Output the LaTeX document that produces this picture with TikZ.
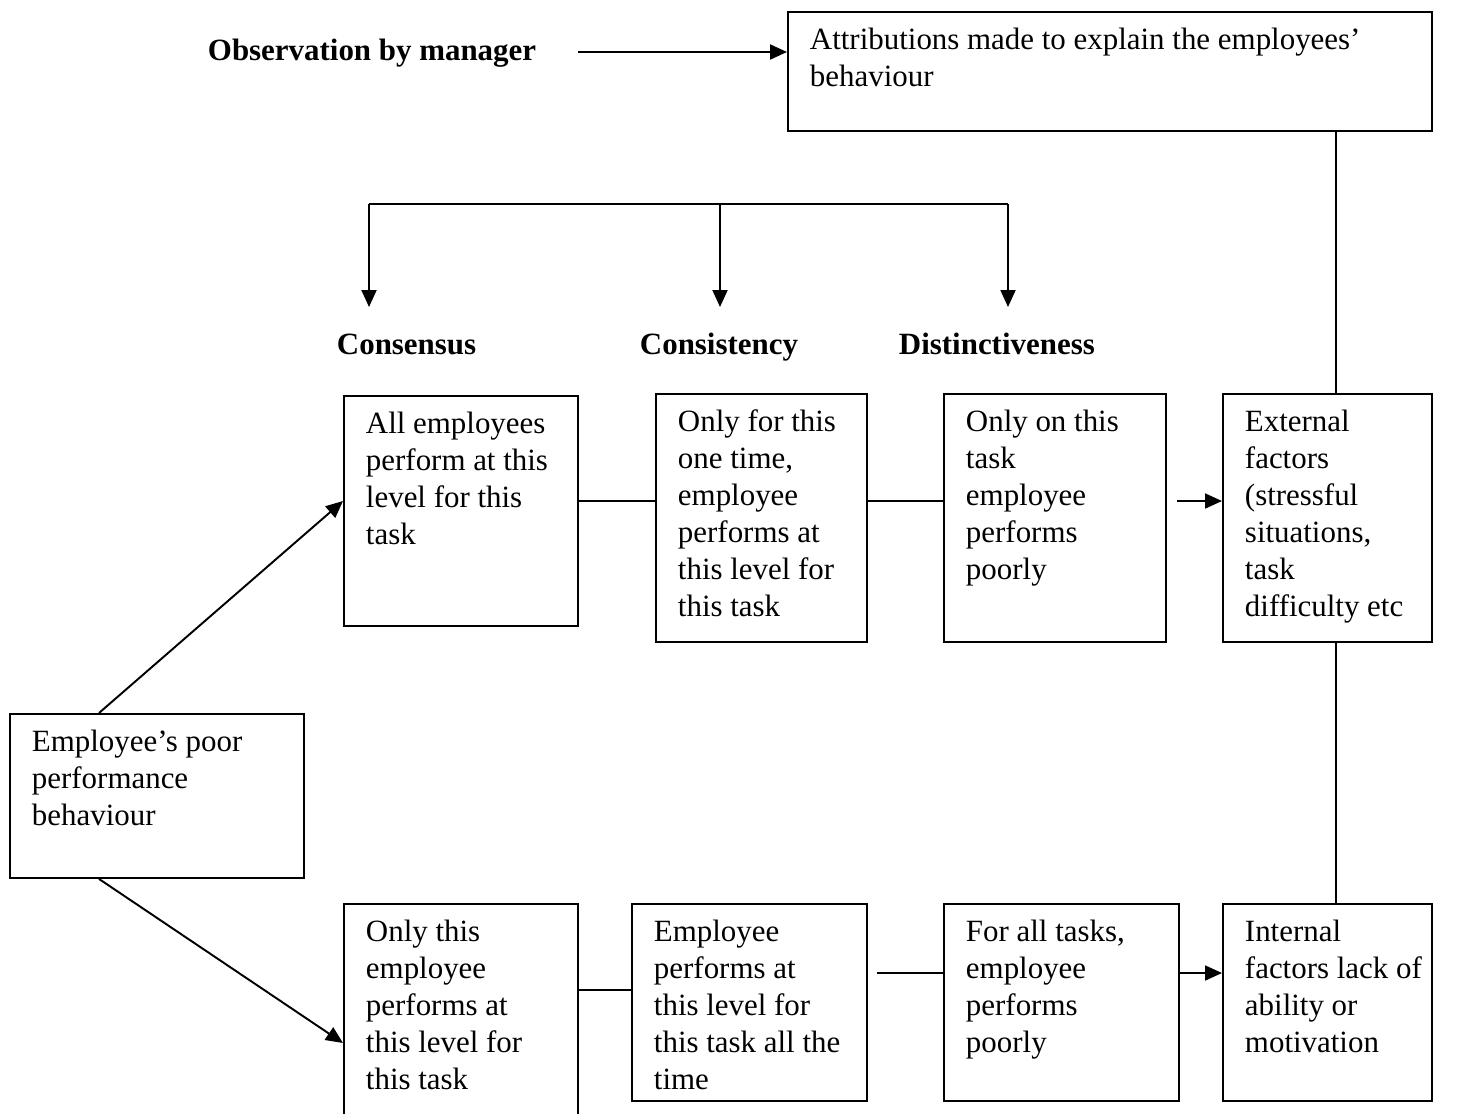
\documentclass[tikz,border=0pt]{standalone}
\usepackage{fontspec}
\setmainfont{Liberation Serif}
\usepackage{tikz}
\usetikzlibrary{arrows.meta}
\tikzset{cell/.style={draw,anchor=north west,align=left,inner xsep=0.1cm,inner ysep=0pt,text height=0.76cm,execute at begin node={\leftskip=0.34cm\spaceskip=\fontdimen2\font\relax}}}
\tikzset{head/.style={anchor=base west,inner sep=0pt,font=\fontsize{17.6}{21}\selectfont\bfseries}}

\begin{document}
\begin{tikzpicture}[x=0.02cm,y=-0.02cm,line width=1.1pt,>={Triangle[length=0.34cm,width=0.3cm]},font=\fontsize{17.6}{21}\selectfont]
    \useasboundingbox (0,0) rectangle (1463,1113);

    \node[head] (obs) at (207,60) {Observation by manager};
    \node[cell,text width=12.68cm,text depth=1.62cm] (attr) at (787,11) {Attributions made to explain the employees’\\behaviour};

    \node[head] (cons) at (336,354) {Consensus};
    \node[head] (cnst) at (639,354) {Consistency};
    \node[head] (dist) at (898,354) {Distinctiveness};

    \node[cell,text width=4.48cm,text depth=3.84cm] (b1) at (343,395) {All employees\\perform at this\\level for this\\task};
    \node[cell,text width=4.02cm,text depth=4.2cm] (b2) at (655,393) {Only for this\\one time,\\employee\\performs at\\this level for\\this task};
    \node[cell,text width=4.24cm,text depth=4.2cm] (b3) at (943,393) {Only on this\\task\\employee\\performs\\poorly};
    \node[cell,text width=3.98cm,text depth=4.2cm] (b4) at (1222,393) {External\\factors\\(stressful\\situations,\\task\\difficulty~etc};

    \node[cell,text width=5.68cm,text depth=2.52cm] (emp) at (9,713) {Employee’s poor\\performance\\behaviour};

    \node[cell,text width=4.48cm,text depth=3.84cm] (b6) at (343,903) {Only this\\employee\\performs at\\this level for\\this task};
    \node[cell,text width=4.5cm,text depth=3.18cm] (b7) at (631,903) {Employee\\performs at\\this level for\\this task all the\\time};
    \node[cell,text width=4.5cm,text depth=3.18cm] (b8) at (943,903) {For all tasks,\\employee\\performs\\poorly};
    \node[cell,text width=3.98cm,text depth=3.18cm] (b9) at (1222,903) {Internal\\factors~lack~of\\ability or\\motivation};

    % free ends and rows of the connectors
    \coordinate (obsout) at (578,52);
    \coordinate (brl) at (369,204);
    \coordinate (brm) at (720,204);
    \coordinate (brr) at (1008,204);
    \coordinate (tipl) at (369,307);
    \coordinate (tipm) at (720,307);
    \coordinate (tipr) at (1008,307);
    \coordinate (rail) at (1336,0);
    \coordinate (row1) at (0,501);
    \coordinate (extin) at (1177,501);
    \coordinate (lowrow) at (0,1043);
    \coordinate (row2) at (0,990);
    \coordinate (gapin) at (877,973);

    \draw [->] (obsout) to (attr.west |- obsout);
    \draw [] (brl) to (brr);
    \draw [->] (brl) to (tipl);
    \draw [->] (brm) to (tipm);
    \draw [->] (brr) to (tipr);

    \draw [] (attr.south -| rail) to (b4.north -| rail);
    \draw [] (b4.south -| rail) to (b9.north -| rail);

    \draw [->] ([xshift=1.8cm]emp.north west) to (b1.west |- row1);
    \draw [->] ([xshift=1.8cm]emp.south west) to (b6.west |- lowrow);

    \draw [] (b1.east |- row1) to (b2.west |- row1);
    \draw [] (b2.east |- row1) to (b3.west |- row1);
    \draw [->] (extin) to (b4.west |- extin);

    \draw [] (b6.east |- row2) to (b7.west |- row2);
    \draw [] (gapin) to (b8.west |- gapin);
    \draw [->] (b8.east |- gapin) to (b9.west |- gapin);
\end{tikzpicture}
\end{document}
